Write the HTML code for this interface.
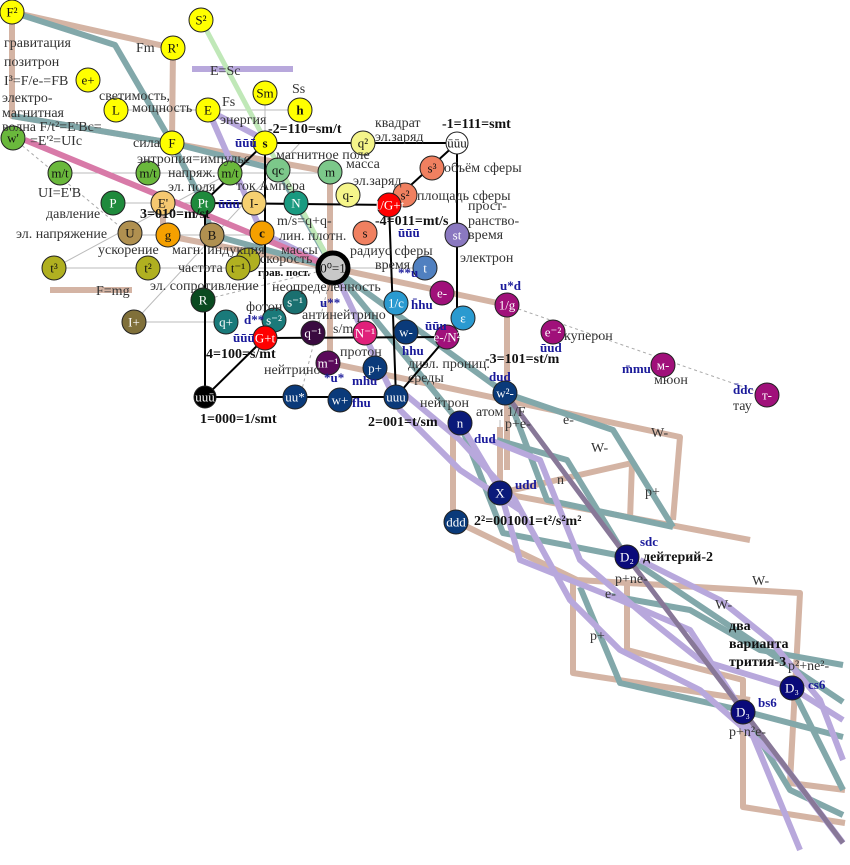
<!DOCTYPE html>
<html><head><meta charset="utf-8"><style>
html,body{margin:0;padding:0;background:#fff;}
svg{display:block;}
text{font-family:"Liberation Serif",serif;}
.l{font-size:14px;fill:#333;}
.b{font-size:14px;fill:#111;font-weight:bold;}
.q{font-size:13px;fill:#1a1a9a;font-weight:bold;}
.n{font-size:13px;fill:#fff;text-anchor:middle;dominant-baseline:central;}
.nd{font-size:13px;fill:#111;text-anchor:middle;dominant-baseline:central;}
</style></head><body>
<svg width="850" height="865" viewBox="0 0 850 865" xmlns="http://www.w3.org/2000/svg">
<g fill="none" stroke-linejoin="round">
<g stroke="#bbb" stroke-width="1">
<line x1="116" y1="110" x2="300" y2="110"/><line x1="60" y1="173" x2="330" y2="173"/>
<line x1="113" y1="203" x2="296" y2="203"/><line x1="130" y1="235" x2="262" y2="235"/>
<line x1="54" y1="268" x2="425" y2="268"/><line x1="134" y1="322" x2="226" y2="322"/>
<line x1="265" y1="93" x2="265" y2="143"/><line x1="500" y1="420" x2="500" y2="493"/>
<line x1="134" y1="322" x2="300" y2="143"/><line x1="54" y1="268" x2="230" y2="173"/>
</g>
<g stroke="#aaa" stroke-width="1" stroke-dasharray="3,3">
<line x1="507" y1="305" x2="767" y2="395"/><line x1="13" y1="138" x2="130" y2="235"/>
<line x1="203" y1="300" x2="333" y2="268"/><line x1="333" y1="268" x2="300" y2="397"/>
</g>
<g stroke="#d4b4a4" stroke-width="6">
<polyline points="12,12 173,48 172,143"/>
<polyline points="12,12 12,116 172,143 330,172 330,363"/>
<polyline points="163,203 163,235 333,268 507,305 507,470"/>
<polyline points="330,363 680,437 673,520"/>
<line x1="50" y1="290" x2="132" y2="290"/>
<polyline points="453,433 453,520 577,580 800,593 790,783 845,790"/>
<polyline points="500,427 500,493 632,463 630,520"/>
<polyline points="573,583 573,673 750,700"/>
<polyline points="627,580 627,650 743,680 743,807 845,823"/>
<polyline points="500,493 750,540"/>
</g>
<g stroke="#82a8aa" stroke-width="6">
<polyline points="12,12 115,45 172,143 203,203 212,235 333,268"/>
<polyline points="12,116 172,143 278,170 333,268 505,393 613,430 673,527"/>
<polyline points="333,268 460,423 503,533 627,557 843,702"/>
<polyline points="497,440 567,460 620,547"/>
<polyline points="503,383 547,500 673,527"/>
<polyline points="580,587 620,683 740,710 843,737"/>
<polyline points="606,595 690,610 760,650 843,665"/>
<polyline points="743,712 790,790 843,815"/>
<polyline points="792,688 843,790"/>
</g>
<g stroke="#b8a8dc" stroke-width="6">
<polyline points="208,110 262,233 333,268 400,410 460,470 520,510"/>
<polyline points="208,110 265,140"/>
<line x1="192" y1="69" x2="293" y2="69"/>
<polyline points="400,390 460,440 515,500 570,600 620,650 700,690 780,760 843,843"/>
<polyline points="460,423 500,490 520,560 620,600 690,630 743,712 800,850"/>
<polyline points="490,440 540,460 580,560 650,620 700,660 792,688 843,720"/>
<polyline points="640,560 720,600 770,640 820,700 843,760"/>
</g>
<polyline stroke="#c0e8b8" stroke-width="5" points="201,20 333,268"/>
<polyline stroke="#d87aa8" stroke-width="6" points="25,140 262,238 333,268"/>
<polyline stroke="#887898" stroke-width="5" points="505,393 627,557 843,843"/>
<g stroke="#000" stroke-width="2">
<polyline points="265,143 457,143 457,310"/>
<line x1="265" y1="143" x2="265" y2="338"/>
<polyline points="203,203 389,205 396,397 205,397 205,203"/>
<line x1="265" y1="143" x2="203" y2="203"/><line x1="457" y1="143" x2="389" y2="205"/>
<line x1="265" y1="338" x2="205" y2="397"/><line x1="447" y1="337" x2="396" y2="397"/>
<line x1="265" y1="338" x2="447" y2="337"/>
</g>
</g>
<g stroke="#222" stroke-width="1">
<circle cx="12" cy="12" r="12" fill="#ffff00"/><circle cx="201" cy="20" r="12" fill="#ffff00"/>
<circle cx="173" cy="48" r="12" fill="#ffff00"/><circle cx="88" cy="80" r="12" fill="#ffff00"/>
<circle cx="116" cy="110" r="12" fill="#ffff00"/><circle cx="265" cy="93" r="12" fill="#ffff00"/>
<circle cx="300" cy="110" r="12" fill="#ffff00"/><circle cx="208" cy="110" r="12" fill="#ffff00"/>
<circle cx="265" cy="143" r="12" fill="#ffff00"/><circle cx="172" cy="143" r="12" fill="#ffff00"/>
<circle cx="13" cy="138" r="12" fill="#6ab83c"/><circle cx="60" cy="173" r="12" fill="#6ab83c"/>
<circle cx="148" cy="173" r="12" fill="#6ab83c"/><circle cx="230" cy="173" r="12" fill="#6ab83c"/>
<circle cx="278" cy="170" r="12" fill="#7cc88a"/><circle cx="330" cy="172" r="12" fill="#7cc88a"/>
<circle cx="363" cy="143" r="12" fill="#f5f58a"/><circle cx="457" cy="143" r="11" fill="#fff"/>
<circle cx="432" cy="168" r="12" fill="#f08060"/><circle cx="405" cy="195" r="12" fill="#f08060"/>
<circle cx="389" cy="205" r="12" fill="#ff0000"/>
<circle cx="113" cy="203" r="12" fill="#1f8a3c"/><circle cx="163" cy="203" r="12" fill="#f5c870"/>
<circle cx="203" cy="203" r="12" fill="#1f8a3c"/><circle cx="254" cy="203" r="12" fill="#f5d070"/>
<circle cx="296" cy="203" r="12" fill="#1a9a80"/><circle cx="348" cy="195" r="12" fill="#f5f58a"/>
<circle cx="365" cy="233" r="12" fill="#f08060"/><circle cx="457" cy="235" r="12" fill="#8a78c0"/>
<circle cx="130" cy="233" r="12" fill="#b09050"/><circle cx="168" cy="235" r="12" fill="#f5a000"/>
<circle cx="212" cy="235" r="12" fill="#b09050"/><circle cx="262" cy="233" r="12" fill="#f5a000"/>
<circle cx="248" cy="260" r="12" fill="#b0b020"/><circle cx="238" cy="268" r="12" fill="#b0b020"/>
<circle cx="54" cy="268" r="12" fill="#b0b020"/><circle cx="148" cy="268" r="12" fill="#b0b020"/>
<circle cx="425" cy="268" r="12" fill="#5080c0"/>
<circle cx="333" cy="268" r="15" fill="#c8c8c8" stroke="#000" stroke-width="5"/>
<circle cx="203" cy="300" r="12" fill="#0a4a20"/><circle cx="295" cy="302" r="12" fill="#1a7070"/>
<circle cx="134" cy="322" r="12" fill="#80703a"/><circle cx="226" cy="322" r="12" fill="#1a7a7a"/>
<circle cx="274" cy="320" r="12" fill="#1a7a7a"/><circle cx="265" cy="338" r="12" fill="#ff0000"/>
<circle cx="313" cy="333" r="12" fill="#3a0a40"/><circle cx="365" cy="333" r="12" fill="#e0207a"/>
<circle cx="396" cy="303" r="12" fill="#2a9ad0"/><circle cx="442" cy="293" r="12" fill="#a0107a"/>
<circle cx="463" cy="318" r="12" fill="#2a9ad0"/><circle cx="507" cy="305" r="12" fill="#a0107a"/>
<circle cx="406" cy="332" r="12" fill="#0a3a7a"/><circle cx="447" cy="337" r="12" fill="#a0107a"/>
<circle cx="328" cy="363" r="12" fill="#5a0a5a"/><circle cx="375" cy="368" r="12" fill="#0a3a7a"/>
<circle cx="205" cy="397" r="11" fill="#000"/><circle cx="295" cy="397" r="12" fill="#0a3a7a"/>
<circle cx="340" cy="400" r="12" fill="#0a3a7a"/><circle cx="396" cy="397" r="12" fill="#0a3a7a"/>
<circle cx="505" cy="393" r="12" fill="#0a3a7a"/><circle cx="460" cy="423" r="12" fill="#0a1a7a"/>
<circle cx="553" cy="332" r="12" fill="#a0107a"/><circle cx="663" cy="365" r="12" fill="#a0107a"/>
<circle cx="767" cy="395" r="12" fill="#a0107a"/>
<circle cx="500" cy="493" r="12" fill="#0a1a7a"/><circle cx="456" cy="522" r="12" fill="#0a3a7a"/>
<circle cx="627" cy="557" r="12" fill="#0a0a7a"/><circle cx="792" cy="688" r="12" fill="#0a0a7a"/>
<circle cx="743" cy="712" r="12" fill="#0a0a7a"/>
</g>
<g>
<text class="nd" x="12" y="12">F²</text><text class="nd" x="201" y="20">S²</text><text class="nd" x="173" y="48">R'</text>
<text class="nd" x="88" y="80">e+</text><text class="nd" x="116" y="110">L</text><text class="nd" x="265" y="93">Sm</text>
<text class="nd" x="300" y="110" font-weight="bold">h</text><text class="nd" x="208" y="110">E</text>
<text class="nd" x="265" y="143" font-weight="bold" font-size="17">s</text><text class="nd" x="172" y="143">F</text>
<text class="nd" x="13" y="138">w'</text><text class="nd" x="60" y="173">m/t</text><text class="nd" x="148" y="173">m/t</text>
<text class="nd" x="230" y="173">m/t</text><text class="nd" x="278" y="170">qc</text><text class="nd" x="330" y="172">m</text>
<text class="nd" x="363" y="143">q²</text><text class="nd" x="457" y="143" font-size="11">ūūu</text>
<text class="nd" x="432" y="168">s³</text><text class="nd" x="405" y="195">s²</text>
<text class="n" x="389" y="205" font-size="8">1/G+t</text>
<text class="n" x="113" y="203">P</text><text class="nd" x="163" y="203">E'</text><text class="n" x="203" y="203">Pt</text>
<text class="nd" x="254" y="203">I-</text><text class="n" x="296" y="203">N</text><text class="nd" x="348" y="195">q-</text>
<text class="nd" x="365" y="233">s</text><text class="n" x="457" y="235">st</text>
<text class="nd" x="130" y="233">U</text><text class="nd" x="168" y="235">g</text><text class="nd" x="212" y="235">B</text>
<text class="nd" x="262" y="233" font-weight="bold">c</text><text class="nd" x="238" y="268">t⁻¹</text>
<text class="nd" x="54" y="268">t³</text><text class="nd" x="148" y="268">t²</text><text class="n" x="425" y="268">t</text>
<text class="nd" x="333" y="268">0⁰=1</text>
<text class="n" x="203" y="300">R</text><text class="n" x="295" y="302">s⁻¹</text><text class="n" x="134" y="322">I+</text>
<text class="n" x="226" y="322">q+</text><text class="n" x="274" y="320">s⁻²</text><text class="n" x="265" y="338" font-size="11">G+t</text>
<text class="n" x="313" y="333">q⁻¹</text><text class="n" x="365" y="333">N⁻¹</text><text class="n" x="396" y="303">1/c</text>
<text class="n" x="442" y="293">e-</text><text class="n" x="463" y="318">ε</text><text class="n" x="507" y="305">1/g</text>
<text class="n" x="406" y="332">w-</text><text class="n" x="447" y="337" font-size="8">e-/N²</text>
<text class="n" x="328" y="363">m⁻¹</text><text class="n" x="375" y="368">p+</text><text class="n" x="205" y="397" font-size="11">uuū</text>
<text class="n" x="295" y="397">uu*</text><text class="n" x="340" y="400">w+</text><text class="n" x="396" y="397" font-size="11">uuu</text>
<text class="n" x="505" y="393">w²-</text><text class="n" x="460" y="423">n</text>
<text class="n" x="553" y="332">e⁻²</text><text class="n" x="663" y="365" font-size="10">м-</text><text class="n" x="767" y="395" font-size="10">т-</text>
<text class="n" x="500" y="493">X</text><text class="n" x="456" y="522" font-size="11">ddd</text>
<text class="n" x="627" y="557">D₂</text><text class="n" x="792" y="688">D₃</text><text class="n" x="743" y="712">D₃</text>
</g>
<g class="l">
<text x="4" y="47">гравитация</text><text x="4" y="66">позитрон</text><text x="4" y="85">I³=F/e-=FB</text>
<text x="2" y="102">электро-</text><text x="2" y="117">магнитная</text><text x="2" y="131">волна F/t²=E'Bc=</text>
<text x="30" y="145">=E'²=UIc</text><text x="136" y="52">Fm</text><text x="99" y="100">светимость,</text>
<text x="132" y="112">мощность</text><text x="222" y="106">Fs</text><text x="220" y="124">энергия</text>
<text x="292" y="93">Ss</text><text x="133" y="147">сила</text><text x="137" y="163">энтропия=импульс</text>
<text x="168" y="177">напряж.</text><text x="168" y="191">эл. поля</text><text x="236" y="190">ток Ампера</text>
<text x="276" y="159">магнитное поле</text><text x="346" y="168">масса</text><text x="353" y="185">эл.заряд</text>
<text x="38" y="197">UI=E'B</text><text x="46" y="218">давление</text><text x="16" y="238">эл. напряжение</text>
<text x="98" y="254">ускорение</text><text x="172" y="254">магн. индукция</text><text x="178" y="272">частота</text>
<text x="150" y="290">эл. сопротивление</text><text x="260" y="263">скорость</text>
<text x="277" y="225">m/s=q+q-</text><text x="279" y="240">лин. плотн.</text><text x="281" y="254">массы</text>
<text x="350" y="255">радиус сферы</text><text x="375" y="269">время</text>
<text x="375" y="127">квадрат</text><text x="375" y="141">эл.заряд</text>
<text x="444" y="172">объём сферы</text><text x="417" y="200">площадь сферы</text>
<text x="468" y="210">прост-</text><text x="468" y="225">ранство-</text><text x="468" y="239">время</text>
<text x="460" y="262">электрон</text><text x="272" y="291">неопределенность</text>
<text x="246" y="311">фотон</text><text x="302" y="319">антинейтрино</text><text x="333" y="333">s/m</text>
<text x="340" y="356">протон</text><text x="264" y="374">нейтрино</text>
<text x="408" y="368">диэл. прониц.</text><text x="408" y="382">среды</text>
<text x="420" y="407">нейтрон</text><text x="476" y="416">атом 1/F</text><text x="505" y="428">p+e-</text>
<text x="564" y="340">куперон</text><text x="654" y="384">мюон</text><text x="733" y="410">тау</text>
<text x="563" y="424">e-</text><text x="651" y="437">W-</text><text x="591" y="452">W-</text>
<text x="557" y="484">n</text><text x="645" y="496">p+</text>
<text x="615" y="583">p+ne-</text><text x="605" y="598">e-</text><text x="752" y="585">W-</text>
<text x="715" y="609">W-</text><text x="590" y="640">p+</text>
<text x="788" y="670">p²+ne²-</text><text x="729" y="736">p+n²e-</text>
<text x="96" y="295">F=mg</text><text x="210" y="75">E=Sc</text>
</g>
<g class="b">
<text x="268" y="133">-2=110=sm/t</text><text x="442" y="128">-1=111=smt</text>
<text x="140" y="218">3=010=m/st</text><text x="375" y="225">-4=011=mt/s</text>
<text x="206" y="358">4=100=s/mt</text><text x="485" y="363">-3=101=st/m</text>
<text x="200" y="423">1=000=1/smt</text><text x="368" y="426">2=001=t/sm</text>
<text x="474" y="525">2²=001001=t²/s²m²</text><text x="643" y="561">дейтерий-2</text>
<text x="729" y="630">два</text><text x="729" y="648">варианта</text><text x="729" y="666">трития-3</text>
<text x="258" y="276" font-size="11">грав. пост.</text>
</g>
<g class="q">
<text x="235" y="147">ūūū</text><text x="218" y="208">ūūū</text><text x="398" y="237">ūūū</text>
<text x="398" y="277">**u</text><text x="320" y="307">u**</text><text x="244" y="324">d**</text>
<text x="233" y="342">ūūū</text><text x="324" y="382">*u*</text><text x="352" y="385">mhu</text>
<text x="352" y="407">fhu</text><text x="411" y="309">h̄hu</text><text x="425" y="330">ūūu</text>
<text x="402" y="355">hhu</text><text x="500" y="290">u*d</text><text x="489" y="381">dud</text>
<text x="540" y="352">ūud</text><text x="622" y="373">m̄mu</text><text x="733" y="394">d̄dc</text>
<text x="474" y="443">dud</text><text x="515" y="489">udd</text><text x="640" y="546">sdc</text>
<text x="808" y="689">cs6</text><text x="758" y="707">bs6</text>
</g>
</svg>
</body></html>
